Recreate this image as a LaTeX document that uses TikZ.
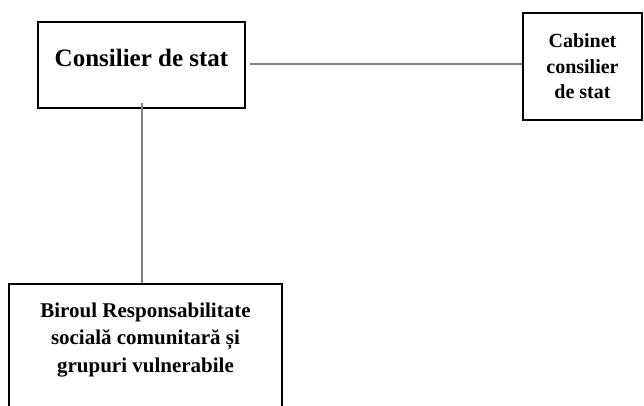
\documentclass[tikz,border=0pt]{standalone}
\usepackage{fontspec}
\setmainfont{Liberation Serif}
\begin{document}
\begin{tikzpicture}[x=1pt,y=-1pt,
  boxst/.style={draw=black, line width=1.8pt, inner sep=0pt},
  txt/.style={font=\bfseries, align=center, inner sep=0pt, text=black},
  conn/.style={draw=black!50, line width=1.1pt}]
\useasboundingbox (0,0) rectangle (644,405);
\node[boxst, minimum width=207, minimum height=86] (b1) at (141.5,65) {};
\node[txt, font=\bfseries\fontsize{25}{30}\selectfont] (t1) at (141.5,58) {Consilier de stat};
\node[boxst, minimum width=119, minimum height=107, txt, font=\bfseries\fontsize{20}{25.5}\selectfont] (b2) at (582.5,66.5) {Cabinet\\consilier\\de stat};
\node[boxst, minimum width=273, minimum height=140, anchor=north] (b3) at (145.5,283) {};
\node[txt, font=\bfseries\fontsize{21}{27.5}\selectfont] (t3) at (145.5,340) {Biroul Responsabilitate\\socială comunitară și\\grupuri vulnerabile};
\coordinate (h1) at (250,64);
\coordinate (v1) at (142,103);
\draw[conn] (h1) -- (h1 -| b2.west);
\draw[conn] (v1) -- (v1 |- b3.north);
\end{tikzpicture}
\end{document}
